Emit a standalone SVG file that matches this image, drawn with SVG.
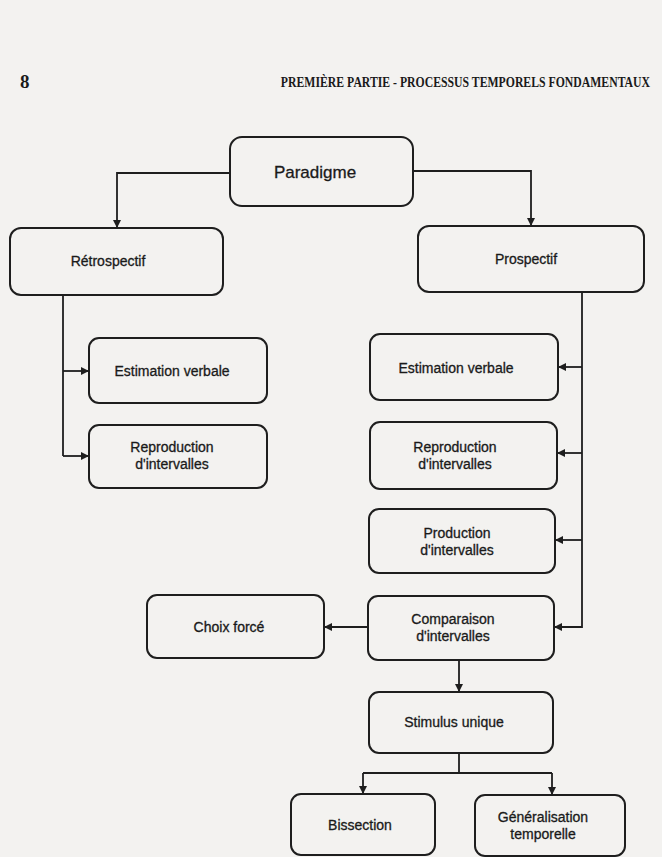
<svg xmlns="http://www.w3.org/2000/svg" width="662" height="857" viewBox="0 0 662 857">
<style>
.bg{fill:#f3f2f0}
.box{fill:none;stroke:#1e1e1e;stroke-width:2}
.lbl{font-family:"Liberation Sans",Arial,sans-serif;font-size:14px;fill:#1a1a1a;stroke:#1a1a1a;stroke-width:0.3;text-anchor:middle}
.big{font-size:17px}
.hdr{font-family:"Liberation Serif","Times New Roman",serif;font-weight:bold;fill:#1a1a1a}
.ln{fill:none;stroke:#1e1e1e;stroke-width:1.8}
</style>
<defs>
<marker id="ah" viewBox="0 0 10 10" refX="10" refY="5" markerWidth="8" markerHeight="8" markerUnits="userSpaceOnUse" orient="auto">
<path d="M0,0 L10,5 L0,10 Z" fill="#1e1e1e"/>
</marker>
</defs>
<rect class="bg" x="0" y="0" width="662" height="857"/>
<g id="header">
<text class="hdr" x="20" y="88" font-size="19">8</text>
<text class="hdr" transform="scale(0.755,1)" x="372" y="87" font-size="15" textLength="489" lengthAdjust="spacingAndGlyphs">PREMIÈRE PARTIE - PROCESSUS TEMPORELS FONDAMENTAUX</text>
</g>
<g id="connectors">
<path class="ln" d="M230,173 H117 V228" marker-end="url(#ah)"/>
<path class="ln" d="M413,171 H531 V226" marker-end="url(#ah)"/>
<path class="ln" d="M63,295 V456"/>
<path class="ln" d="M63,371 H89" marker-end="url(#ah)"/>
<path class="ln" d="M63,456 H89" marker-end="url(#ah)"/>
<path class="ln" d="M582,292 V627 H554" marker-end="url(#ah)"/>
<path class="ln" d="M582,367 H558" marker-end="url(#ah)"/>
<path class="ln" d="M582,453 H557" marker-end="url(#ah)"/>
<path class="ln" d="M582,540 H555" marker-end="url(#ah)"/>
<path class="ln" d="M368,627 H324" marker-end="url(#ah)"/>
<path class="ln" d="M459,660 V692" marker-end="url(#ah)"/>
<path class="ln" d="M459,753 V773"/>
<path class="ln" d="M363,773 H552"/>
<path class="ln" d="M363,773 V794" marker-end="url(#ah)"/>
<path class="ln" d="M552,773 V795" marker-end="url(#ah)"/>
</g>
<g id="paradigme">
<rect class="box" x="230" y="137" width="183" height="69" rx="12"/>
<text class="lbl big" x="315" y="178">Paradigme</text>
</g>
<g id="retrospectif">
<rect class="box" x="10" y="228" width="213" height="67" rx="11"/>
<text class="lbl" x="108" y="266">Rétrospectif</text>
</g>
<g id="prospectif">
<rect class="box" x="418" y="226" width="226" height="66" rx="11"/>
<text class="lbl" x="526" y="264">Prospectif</text>
</g>
<g id="estimation-retro">
<rect class="box" x="89" y="338" width="178" height="65" rx="10"/>
<text class="lbl" x="172" y="376">Estimation verbale</text>
</g>
<g id="reproduction-retro">
<rect class="box" x="89" y="425" width="178" height="63" rx="10"/>
<text class="lbl" x="172" y="452">Reproduction</text>
<text class="lbl" x="172" y="469">d'intervalles</text>
</g>
<g id="estimation-pro">
<rect class="box" x="370" y="334" width="188" height="66" rx="10"/>
<text class="lbl" x="456" y="373">Estimation verbale</text>
</g>
<g id="reproduction-pro">
<rect class="box" x="370" y="422" width="187" height="67" rx="10"/>
<text class="lbl" x="455" y="452">Reproduction</text>
<text class="lbl" x="455" y="469">d'intervalles</text>
</g>
<g id="production-pro">
<rect class="box" x="369" y="509" width="186" height="64" rx="10"/>
<text class="lbl" x="457" y="538">Production</text>
<text class="lbl" x="457" y="555">d'intervalles</text>
</g>
<g id="choix-force">
<rect class="box" x="147" y="595" width="177" height="63" rx="10"/>
<text class="lbl" x="229" y="632">Choix forcé</text>
</g>
<g id="comparaison">
<rect class="box" x="368" y="596" width="186" height="64" rx="10"/>
<text class="lbl" x="453" y="624">Comparaison</text>
<text class="lbl" x="453" y="641">d'intervalles</text>
</g>
<g id="stimulus-unique">
<rect class="box" x="369" y="692" width="184" height="61" rx="10"/>
<text class="lbl" x="454" y="727">Stimulus unique</text>
</g>
<g id="bissection">
<rect class="box" x="291" y="794" width="144" height="61" rx="10"/>
<text class="lbl" x="360" y="830">Bissection</text>
</g>
<g id="generalisation">
<rect class="box" x="475" y="795" width="150" height="61" rx="10"/>
<text class="lbl" x="543" y="822">Généralisation</text>
<text class="lbl" x="543" y="839">temporelle</text>
</g>
</svg>
